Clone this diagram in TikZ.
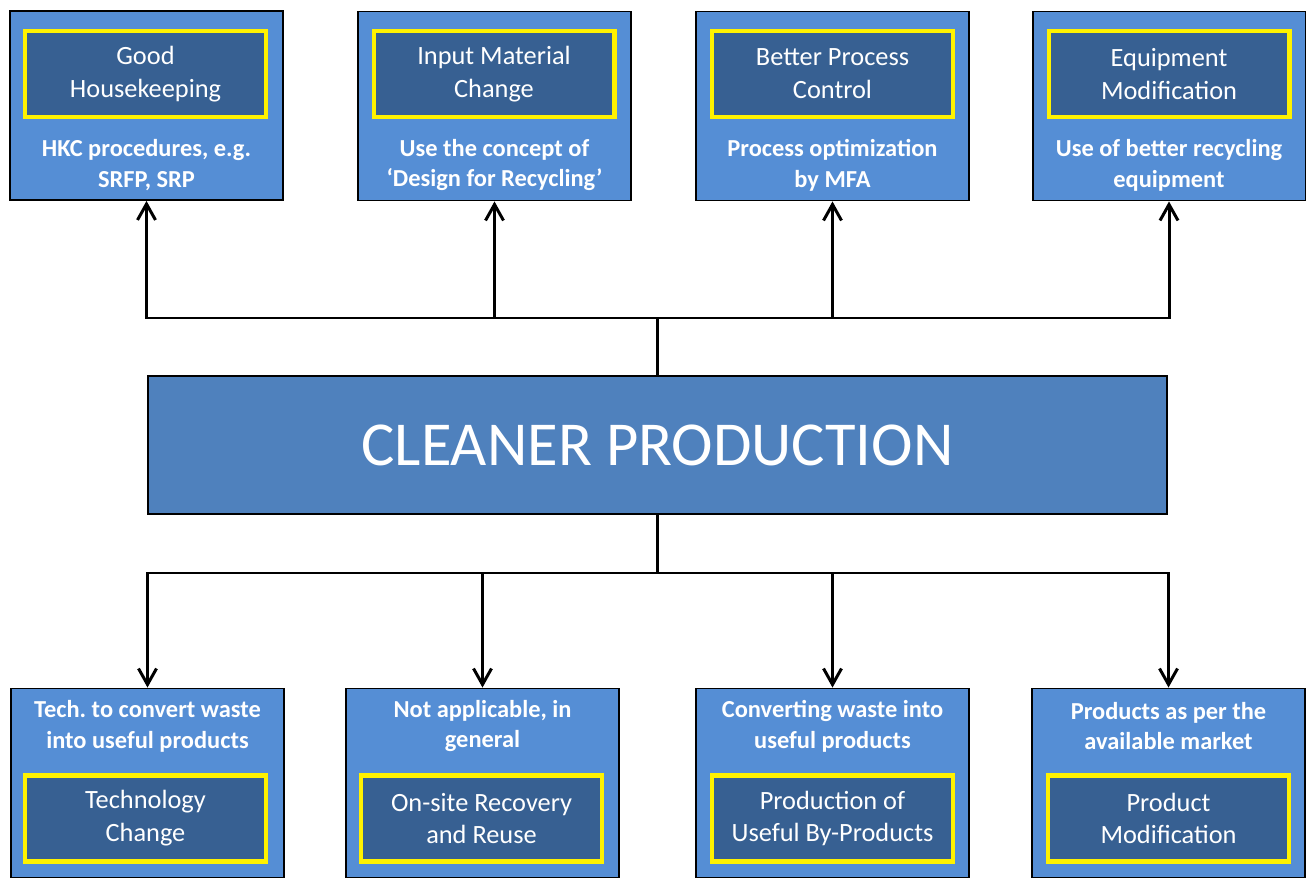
\documentclass[tikz,border=0pt]{standalone}
\usepackage{fontspec}
\setmainfont{Carlito}
\usetikzlibrary{arrows.meta}
\definecolor{outerblue}{RGB}{85,142,213}
\definecolor{mainblue}{RGB}{79,129,189}
\definecolor{innerblue}{RGB}{55,96,146}
\tikzset{
  outerbox/.style={draw=black,line width=1.1pt,fill=outerblue,minimum width=5.46cm,minimum height=3.78cm,inner sep=0pt},
  innerbox/.style={draw=yellow,line width=2.3pt,fill=innerblue,minimum width=4.82cm,minimum height=1.72cm,inner sep=0pt,text=white,align=center,font=\fontsize{15}{18.7}\selectfont},
  notetext/.style={text=white,align=center,inner sep=0pt,font=\bfseries\fontsize{13.9}{17.6}\selectfont},
  trunk/.style={line width=1.7pt},
  link/.style={line width=1.7pt,-{Straight Barb[length=3.2mm,width=3.6mm]}}
}
\frenchspacing
\begin{document}
\begin{tikzpicture}[x=0.02cm,y=-0.02cm]
    \useasboundingbox (0,0) rectangle (1307,878);
    \clip (0,0) rectangle (1307,878);
    %% centre box
    \node[draw=black,line width=1.1pt,fill=mainblue,minimum width=20.38cm,minimum height=2.76cm,text=white,font=\fontsize{35.6}{42}\selectfont] (cp) at (657.5,445) {CLEANER PRODUCTION};
    %% upper row
    \node[outerbox] (hk) at (146.5,105.5) {};
    \node[innerbox] (hkin) at (145.5,74) {Good\\Housekeeping};
    \node[notetext] (hknote) at (146.5,165) {HKC procedures, e.g.\\SRFP, SRP};
    \node[outerbox] (im) at (494.5,106) {};
    \node[innerbox] (imin) at (494,74) {Input Material\\Change};
    \node[notetext] (imnote) at (494.5,165) {Use the concept of\\‘Design for Recycling’};
    \node[outerbox] (bp) at (832.5,106) {};
    \node[innerbox] (bpin) at (832.5,74) {Better Process\\Control};
    \node[notetext] (bpnote) at (832.5,165) {Process optimization\\by MFA};
    \node[outerbox] (em) at (1169,106) {};
    \node[innerbox] (emin) at (1169,74) {Equipment\\Modification};
    \node[notetext] (emnote) at (1169,165) {Use of better recycling\\equipment};
    %% lower row
    \node[outerbox] (tc) at (147.5,783) {};
    \node[notetext] (tcnote) at (147.5,726) {Tech.\ to convert waste\\into useful products};
    \node[innerbox] (tcin) at (145.5,818.5) {Technology\\Change};
    \node[outerbox] (or) at (482.5,783) {};
    \node[notetext] (ornote) at (482.5,726) {Not applicable, in\\general};
    \node[innerbox] (orin) at (481.5,818.5) {On-site Recovery\\and Reuse};
    \node[outerbox] (pb) at (832.5,783) {};
    \node[notetext] (pbnote) at (832.5,726) {Converting waste into\\useful products};
    \node[innerbox] (pbin) at (832.5,818.5) {Production of\\Useful By-Products};
    \node[outerbox] (pm) at (1168.5,783) {};
    \node[notetext] (pmnote) at (1168.5,726) {Products as per the\\available market};
    \node[innerbox] (pmin) at (1168.5,818.5) {Product\\Modification};
    %% connectors up
    \coordinate (jtop) at (657.5,318);
    \draw[trunk] (cp.north) -- (jtop);
    \draw[link] (jtop) -| (hk.south);
    \draw[link] (jtop) -| (im.south);
    \draw[link] (jtop) -| (bp.south);
    \draw[link] (jtop) -| (em.south);
    %% connectors down
    \coordinate (jbot) at (657.5,573);
    \draw[trunk] (cp.south) -- (jbot);
    \draw[link] (jbot) -| (tc.north);
    \draw[link] (jbot) -| (or.north);
    \draw[link] (jbot) -| (pb.north);
    \draw[link] (jbot) -| (pm.north);
\end{tikzpicture}
\end{document}
